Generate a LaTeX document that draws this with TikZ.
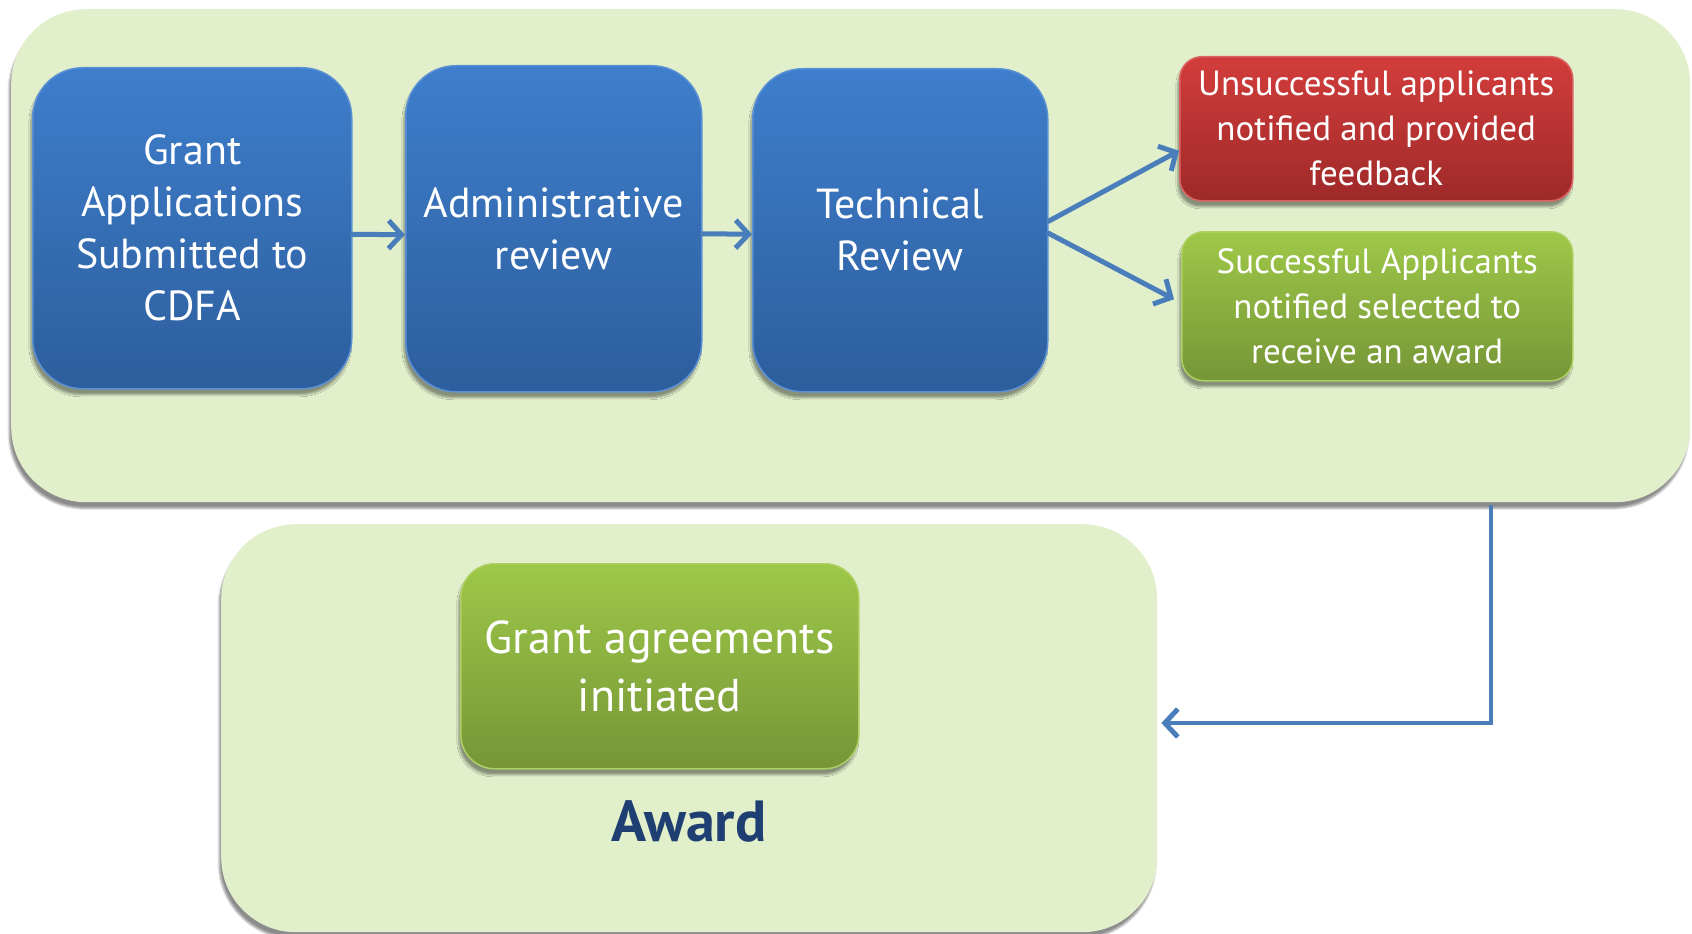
\documentclass[tikz,border=0pt]{standalone}
\usepackage{fontspec}
\setmainfont{PT Sans}
\usetikzlibrary{arrows.meta,positioning,shadows.blur}

\definecolor{panelgreen}{RGB}{225,239,203}
\definecolor{blueTop}{RGB}{62,126,204}
\definecolor{blueBot}{RGB}{45,94,157}
\definecolor{redTop}{RGB}{210,61,59}
\definecolor{redBot}{RGB}{158,41,41}
\definecolor{greenTop}{RGB}{158,200,72}
\definecolor{greenBot}{RGB}{118,150,55}
\definecolor{linkblue}{RGB}{74,126,187}
\definecolor{awardnavy}{RGB}{31,63,115}

\tikzset{
  panel/.style={rounded corners=75pt, fill=panelgreen, anchor=north west,
    blur shadow={shadow xshift=-2pt, shadow yshift=-6pt, shadow opacity=45, shadow blur steps=6}},
  box/.style={anchor=north west, inner sep=0pt, align=center, text=white,
    blur shadow={shadow xshift=-2pt, shadow yshift=-6pt, shadow opacity=40, shadow blur steps=6}},
  stage/.style={box, rounded corners=50pt, top color=blueTop, bottom color=blueBot,
    draw=blueTop!85!white, line width=1.5pt, font=\fontsize{42}{52}\selectfont},
  outcome/.style={box, rounded corners=22pt, line width=1.5pt, font=\fontsize{35}{45}\selectfont},
  link/.style={draw=linkblue, line width=5pt, line cap=round,
    -{Straight Barb[length=13pt,width=28pt,line width=5pt]}}
}

\begin{document}
\begin{tikzpicture}[x=1pt,y=-1pt]
  \useasboundingbox (0,0) rectangle (1692,934);

  % the two phases
  \node[panel, minimum width=1679pt, minimum height=493pt] (review) at (11,9) {};
  \node[panel, minimum width=936pt, minimum height=408pt] (awardbox) at (221,524) {};

  % review steps
  \node[stage, minimum width=319pt, minimum height=321pt] (grant) at (32,67)
    {Grant\\Applications\\Submitted to\\CDFA};
  \node[stage, minimum width=296pt, minimum height=326pt] (admin) at (405,65)
    {Administrative\\review};
  \node[stage, minimum width=295pt, minimum height=323pt] (tech) at (752,68)
    {Technical\\Review};

  % outcomes
  \node[outcome, top color=redTop, bottom color=redBot, draw=redTop!80!white,
    minimum width=393pt, minimum height=144pt] (fail) at (1179,56)
    {Unsuccessful applicants\\notified and provided\\feedback};
  \node[outcome, top color=greenTop, bottom color=greenBot, draw=greenTop!85!white,
    minimum width=391pt, minimum height=149pt] (pass) at (1181,231)
    {Successful Applicants\\notified selected to\\receive an award};

  % award phase
  \node[box, rounded corners=34pt, top color=greenTop, bottom color=greenBot,
    draw=greenTop!85!white, line width=1.5pt, font=\fontsize{46}{58}\selectfont,
    minimum width=398pt, minimum height=205pt] (agree) at (460,563)
    {Grant agreements\\initiated};
  \node[font=\fontsize{58}{68}\selectfont\bfseries, text=awardnavy] (awardlbl) at (689,821) {Award};

  % arrows
  \draw[link] ([yshift=-6pt]grant.east) -- ([yshift=-6pt]admin.west);
  \draw[link] ([yshift=-5pt]admin.east) -- ([yshift=-4pt]tech.west);
  \draw[link] ([yshift=9pt]tech.east) -- ([yshift=-22pt]fail.west);
  \draw[link] ([yshift=-3pt]tech.east) -- ([xshift=-7pt,yshift=7pt]pass.west);

  \coordinate (turn) at (1491,723);
  \draw[link, line width=4pt, line cap=butt] ([yshift=-3pt]review.south -| turn) |- ([xshift=4pt]awardbox.east |- turn);
\end{tikzpicture}
\end{document}
